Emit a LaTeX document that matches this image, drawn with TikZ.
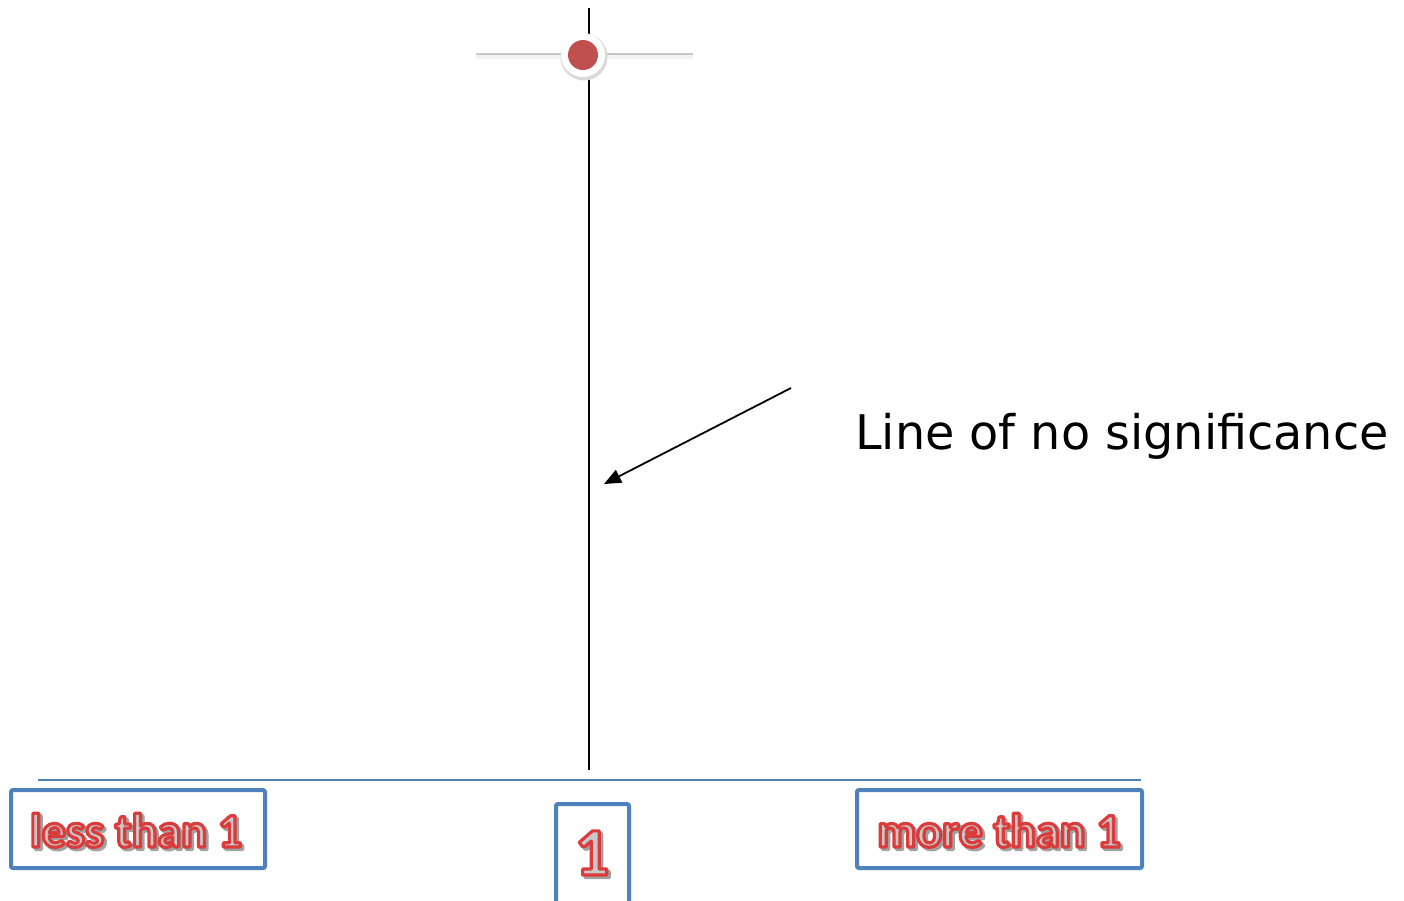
\documentclass[tikz,border=0pt]{standalone}
\usepackage{fontspec}
\setmainfont{DejaVu Sans}
\newfontfamily\carl{Carlito}
\usetikzlibrary{arrows.meta}
\definecolor{axblue}{HTML}{4F81BD}
\definecolor{dotred}{HTML}{C0504D}
\definecolor{fillg}{HTML}{C8C8C8}
\definecolor{shd}{HTML}{A0A0A0}
\newcommand\outl[1]{\rlap{\raisebox{-2.5pt}{\hspace{2.5pt}{\color{shd}\special{pdf:code q 0.63 0.63 0.63 RG 3.2 w 1 j 2 Tr}#1\special{pdf:code Q}}}}{\color{fillg}\special{pdf:code q 0.86 0.23 0.23 RG 3.2 w 1 j 2 Tr}#1\special{pdf:code Q}}}
\tikzset{
  bbox/.style={draw=axblue, line width=4pt, rounded corners=2pt, fill=white, inner sep=0pt},
  lbl/.style={anchor=base, inner sep=0pt, font=\carl\bfseries\fontsize{48}{50}\selectfont},
  bigone/.style={anchor=base, inner sep=0pt, font=\carl\bfseries\fontsize{68}{70}\selectfont},
  note/.style={anchor=base west, inner sep=0pt, font=\fontsize{47.7}{52}\selectfont},
}
\begin{document}
\begin{tikzpicture}[x=1pt,y=-1pt]
\useasboundingbox (0,0) rectangle (1404,900);
\clip (0,0) rectangle (1404,900);
% vertical line of no significance
\coordinate (vtop) at (589,8);
\coordinate (vbot) at (589,770);
\draw[line width=2pt] (vtop) -- (vbot);
% confidence interval bar with shadow
\coordinate (cil) at (476,57);
\coordinate (cir) at (693,57);
\draw[line width=3pt, black!22] ([yshift=3]cil) -- ([yshift=3]cir);
\draw[line width=4pt, black!5] (cil) -- (cir);
% point estimate
\node[circle, fill=black!15, minimum size=47pt, inner sep=0pt] (dotsh) at (584,57) {};
\node[circle, fill=white, minimum size=44pt, inner sep=0pt] (ring) at (583,55) {};
\node[circle, fill=dotred, minimum size=30pt, inner sep=0pt] (dot) at (583,55) {};
% axis
\coordinate (axl) at (38,780);
\coordinate (axr) at (1141,780);
\draw[axblue, line width=1.5pt] (axl) -- (axr);
% boxes
\node[bbox, minimum width=254pt, minimum height=78pt] (boxl) at (138,829) {};
\node[bbox, minimum width=73pt, minimum height=112pt] (boxm) at (592.5,860) {};
\node[bbox, minimum width=285pt, minimum height=78pt] (boxr) at (999.5,829) {};
\node[lbl] (tl) at (136,847) {\outl{less than 1}};
\node[lbl] (tr) at (999,847) {\outl{more than 1}};
\node[bigone] (tm) at (592,875) {\outl{1}};
% annotation
\node[note] (lab) at (855,449) {Line of no significance};
\coordinate (arS) at (791,388);
\coordinate (arE) at (604,484);
\draw[line width=1.8pt, -{Triangle[length=17pt,width=14pt]}] (arS) -- (arE);
\end{tikzpicture}
\end{document}
